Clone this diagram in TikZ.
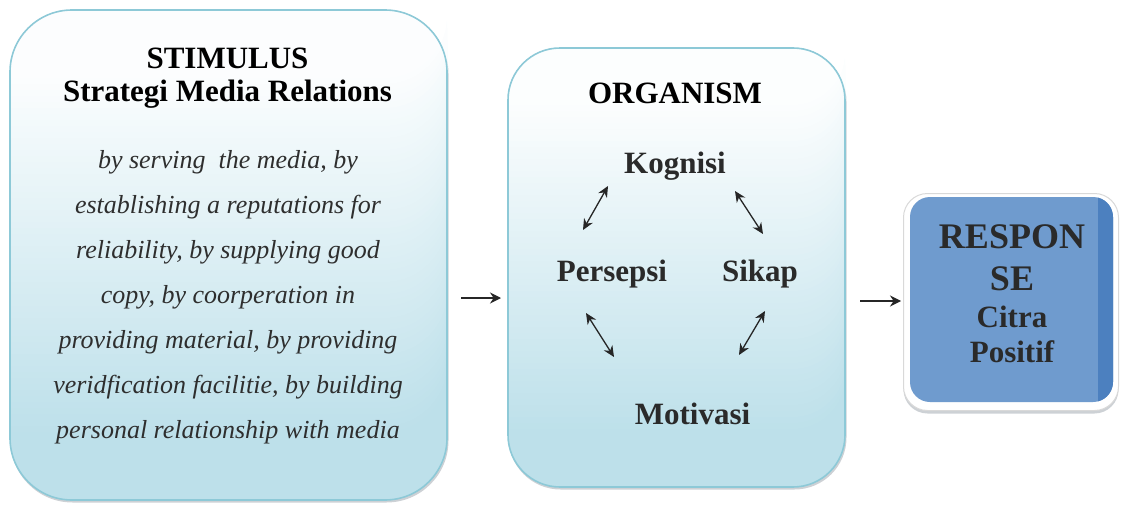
\documentclass[tikz,border=0pt]{standalone}
\usepackage{fontspec}
\newfontfamily\lserif{Liberation Serif}
\usetikzlibrary{arrows.meta}
\definecolor{panelborder}{HTML}{8DC9D7}
\definecolor{panelfill}{HTML}{BDE0EA}
\definecolor{respfill}{HTML}{6F9BCE}
\definecolor{respdark}{HTML}{4C80BF}
\definecolor{termgray}{HTML}{2A2A2A}
\definecolor{descgray}{HTML}{2E2E2E}
\definecolor{shadowgray}{HTML}{CDD1D5}
\newcommand\gradpanel[5]{%
  \pgfmathsetmacro\gpstart{#4-#5}%
  \pgfmathsetmacro\gpend{#2+#5+2}%
  \pgfmathsetmacro\gpnext{\gpstart-6}%
  \pgfmathsetmacro\gpzero{#2+0.1*(#4-#2)}%
  \foreach \yy in {\gpstart,\gpnext,...,\gpend}{%
    \pgfmathsetmacro\pc{max(0,min(100,(\yy-\gpzero)/(\gpstart-\gpzero)*100))}%
    \fill[panelfill!\pc!white] (#1,\yy) [rounded corners=#5pt] |- ({(#1+#3)/2},#2) -| (#3,\yy) [sharp corners] -- cycle;
  }}
\tikzset{
  panelbase/.style={fill=panelfill, inner sep=0pt, outer sep=0pt},
  panelline/.style={draw=panelborder, line width=1.6pt},
  panelshadow/.style={fill=shadowgray, inner sep=0pt, outer sep=0pt},
  head/.style={font=\lserif\bfseries\fontsize{31}{34}\selectfont, anchor=base, inner sep=0pt, text=black},
  term/.style={font=\lserif\bfseries\fontsize{31}{34}\selectfont, anchor=base, inner sep=0pt, text=termgray},
  desc/.style={font=\lserif\itshape\fontsize{26}{45}\selectfont, align=center, anchor=north, inner sep=0pt, text=descgray},
  resp/.style={font=\lserif\bfseries\fontsize{36}{40}\selectfont, anchor=base, inner sep=0pt, text=termgray},
  respsub/.style={font=\lserif\bfseries\fontsize{31}{34}\selectfont, anchor=base, inner sep=0pt, text=termgray},
  dbl/.style={{Stealth[length=11pt,width=10pt]}-{Stealth[length=11pt,width=10pt]}, line width=1.3pt, black!85},
  flow/.style={-{Stealth[length=11pt,width=11pt]}, line width=1.2pt, black!85}
}
\begin{document}
\begin{tikzpicture}[x=1pt,y=-1pt]
\useasboundingbox (0,0) rectangle (1122,506);
% shadows
\node[panelshadow, rounded corners=62pt, minimum width=438pt, minimum height=491pt] (stimsh) at (229.5,257) {};
\node[panelshadow, rounded corners=52pt, minimum width=338pt, minimum height=440pt] (orgsh) at (677.5,269.5) {};
\node[panelshadow, rounded corners=24pt, minimum width=215pt, minimum height=217pt] (respsh) at (1011,305) {};
% stimulus panel
\node[panelbase, rounded corners=62pt, minimum width=437pt, minimum height=490pt] (stim) at (228.5,255) {};
\gradpanel{10}{10}{447}{500}{62}
\draw[panelline, rounded corners=62pt] (stim.south west) rectangle (stim.north east);
% organism panel
\node[panelbase, rounded corners=52pt, minimum width=337pt, minimum height=439pt] (org) at (676.5,267.5) {};
\gradpanel{508}{48}{845}{487}{52}
\draw[panelline, rounded corners=52pt] (org.south west) rectangle (org.north east);
% response panel
\node[draw=black!15, line width=1pt, fill=white, rounded corners=24pt, minimum width=215pt, minimum height=217pt,
  inner sep=0pt] (respout) at (1011,302) {};
\node[fill=respfill, rounded corners=20pt, minimum width=203pt, minimum height=205pt, inner sep=0pt] (respin) at (1011.5,299.5) {};
\fill[respdark] (1098,197.64) arc[start angle=-75.52, end angle=0, radius=20] -- (1113,382) arc[start angle=0, end angle=75.52, radius=20] -- cycle;
% stimulus text
\node[head] (t1) at (227.5,68) {STIMULUS};
\node[head] (t2) at (227.5,101) {Strategi Media Relations};
\node[desc] (d) at (228,150) {by serving\ \ the media, by\\ establishing a reputations for\\ reliability, by supplying good\\ copy, by coorperation in\\ providing material, by providing\\ veridfication facilitie, by building\\ personal relationship with media};
% organism text
\node[head] (o1) at (675,103) {ORGANISM};
\node[term] (kog) at (675,173) {Kognisi};
\node[term] (per) at (612,281) {Persepsi};
\node[term] (sik) at (760,281) {Sikap};
\node[term] (mot) at (692.5,424) {Motivasi};
% response text
\node[resp] (r1) at (1012,248) {RESPON};
\node[resp] (r2) at (1012,290) {SE};
\node[respsub] (r3) at (1012,327) {Citra};
\node[respsub] (r4) at (1012,362) {Positif};
% arrow ends
\coordinate (kp1) at (608,186); \coordinate (kp2) at (583,230);
\coordinate (ks1) at (735,191); \coordinate (ks2) at (763,234);
\coordinate (pm1) at (586,313); \coordinate (pm2) at (614,357);
\coordinate (sm1) at (765,311); \coordinate (sm2) at (739,355);
\coordinate (f1a) at (461,298); \coordinate (f1b) at (501,298);
\coordinate (f2a) at (860,301); \coordinate (f2b) at (901,301);
\draw[dbl] (kp1) -- (kp2);
\draw[dbl] (ks1) -- (ks2);
\draw[dbl] (pm1) -- (pm2);
\draw[dbl] (sm1) -- (sm2);
\draw[flow] (f1a) -- (f1b);
\draw[flow] (f2a) -- (f2b);
\end{tikzpicture}
\end{document}
